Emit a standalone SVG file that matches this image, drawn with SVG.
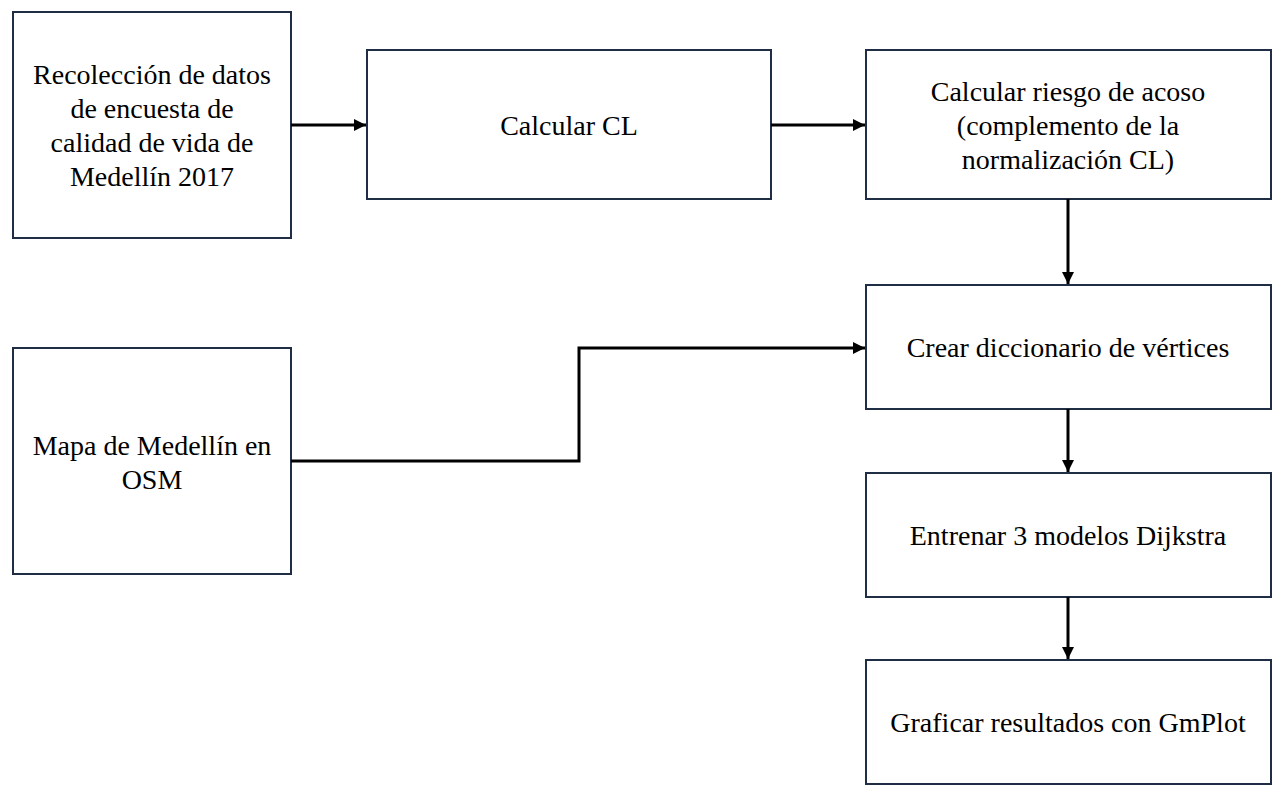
<svg xmlns="http://www.w3.org/2000/svg" width="1282" height="796" viewBox="0 0 1282 796">
<defs>
<marker id="ah" viewBox="0 0 10 10" refX="10" refY="5" markerWidth="4" markerHeight="4" orient="auto" markerUnits="strokeWidth">
<path d="M0,0 L10,5 L0,10 z" fill="#000"/>
</marker>
<style>
.box{fill:#fff;stroke:#1f2d45;stroke-width:2}
.t{font-family:"Liberation Serif","Times New Roman",serif;font-size:28px;fill:#000;text-anchor:middle}
.c{fill:none;stroke:#000;stroke-width:3;marker-end:url(#ah)}
</style>
</defs>
<rect width="1282" height="796" fill="#fff"/>
<g id="n1"><rect class="box" x="13" y="12" width="278" height="226"/>
<text class="t" x="152" y="84">Recolección de datos</text>
<text class="t" x="152" y="118">de encuesta de</text>
<text class="t" x="152" y="152">calidad de vida de</text>
<text class="t" x="152" y="186">Medellín 2017</text></g>
<g id="n2"><rect class="box" x="367" y="50" width="404" height="149"/>
<text class="t" x="569" y="135">Calcular CL</text></g>
<g id="n3"><rect class="box" x="866" y="50" width="405" height="149"/>
<text class="t" x="1068" y="101">Calcular riesgo de acoso</text>
<text class="t" x="1068" y="135">(complemento de la</text>
<text class="t" x="1068" y="169">normalización CL)</text></g>
<g id="n4"><rect class="box" x="866" y="285" width="405" height="124"/>
<text class="t" x="1068" y="357">Crear diccionario de vértices</text></g>
<g id="n5"><rect class="box" x="866" y="473" width="405" height="124"/>
<text class="t" x="1068" y="545">Entrenar 3 modelos Dijkstra</text></g>
<g id="n6"><rect class="box" x="866" y="660" width="405" height="124"/>
<text class="t" x="1068" y="732">Graficar resultados con GmPlot</text></g>
<g id="n7"><rect class="box" x="13" y="348" width="278" height="226"/>
<text class="t" x="152" y="455">Mapa de Medellín en</text>
<text class="t" x="152" y="489">OSM</text></g>
<g id="connectors">
<path class="c" d="M291,125 H366"/>
<path class="c" d="M771,125 H865"/>
<path class="c" d="M1068,199 V284"/>
<path class="c" d="M1068,409 V472"/>
<path class="c" d="M1068,597 V659"/>
<path class="c" d="M291,461 H579 V348 H865"/>
</g>
</svg>
